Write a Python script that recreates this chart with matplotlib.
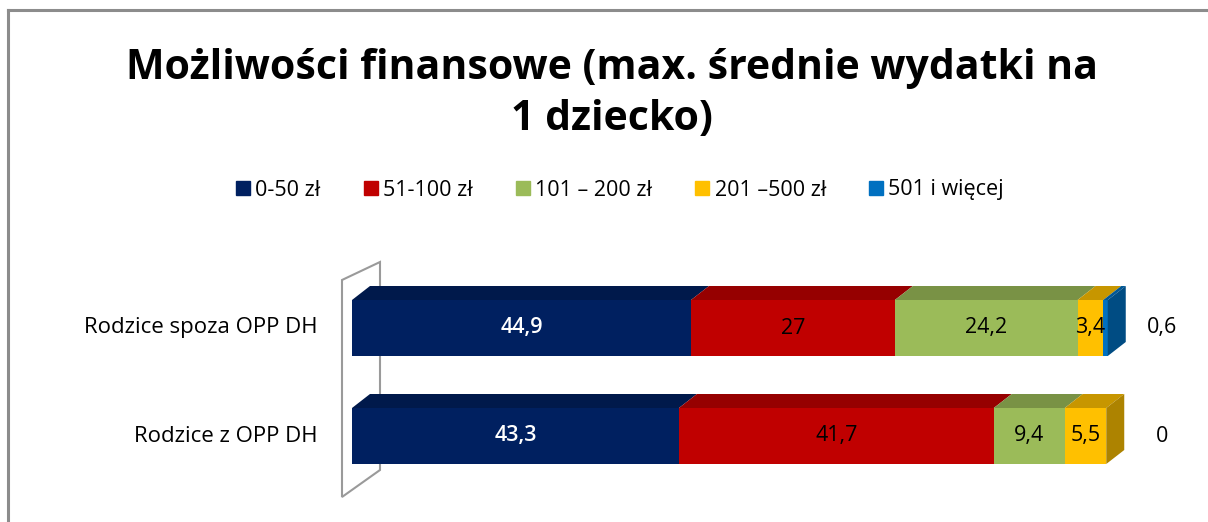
import matplotlib.pyplot as plt
from matplotlib.patches import Polygon
import matplotlib.colors as mcolors

plt.rcParams['font.family'] = ['Open Sans', 'DejaVu Sans']

categories = ["Rodzice spoza OPP DH", "Rodzice z OPP DH"]
series = ["0-50 zł", "51-100 zł", "101 – 200 zł", "201 –500 zł", "501 i więcej"]
values = [
    [44.9, 27, 24.2, 3.4, 0.6],
    [43.3, 41.7, 9.4, 5.5, 0],
]
labels = [
    ["44,9", "27", "24,2", "3,4", "0,6"],
    ["43,3", "41,7", "9,4", "5,5", "0"],
]
colors = ["#002060", "#C00000", "#9BBB59", "#FFC000", "#0070C0"]
label_colors = ["white", "black", "black", "black", "black"]


def darker(c, f=0.78):
    r, g, b = mcolors.to_rgb(c)
    return (r * f, g * f, b * f)


fig = plt.figure(figsize=(12.08, 5.22), dpi=100)

# chart frame (left + top edges visible)
fig.add_artist(plt.Line2D([8 / 1208, 8 / 1208], [0, 1 - 10 / 522], color="#8c8c8c", lw=2.2))
fig.add_artist(plt.Line2D([8 / 1208, 1], [1 - 10 / 522, 1 - 10 / 522], color="#8c8c8c", lw=2.2))

fig.text(612 / 1208, 1 - 94 / 522, "Możliwości finansowe (max. średnie wydatki na\n1 dziecko)",
         ha="center", va="center", fontsize=29.5, fontweight="bold", linespacing=1.32)

# axes: x in percent, y in category units (108 px per unit)
px_per_x = 7.55
left_px, right_px = 352, 352 + 100 * px_per_x
top_px, bot_px = 240, 510
ax = fig.add_axes([left_px / 1208, 1 - bot_px / 522, (right_px - left_px) / 1208, (bot_px - top_px) / 522])
ax.set_xlim(0, 100)
ax.set_ylim((bot_px - 328) / 108, (top_px - 328) / 108)
ax.axis("off")

dx = 18 / px_per_x
dy = -14 / 108
h = 56 / 108

# back wall
wall = Polygon([(-10 / px_per_x, (280 - 328) / 108), (28 / px_per_x, (262 - 328) / 108),
                (28 / px_per_x, (470 - 328) / 108), (-10 / px_per_x, (497 - 328) / 108)],
               closed=True, fill=False, edgecolor="#9a9a9a", lw=1.5, clip_on=False)
ax.add_patch(wall)

for i, row in enumerate(values):
    y0, y1 = i - h / 2, i + h / 2
    start = 0
    last_color = colors[0]
    for j, v in enumerate(row):
        end = start + v
        if v > 0:
            ax.add_patch(Polygon([(start, y0), (start + dx, y0 + dy), (end + dx, y0 + dy), (end, y0)],
                                 closed=True, facecolor=darker(colors[j]), edgecolor="none", clip_on=False))
            ax.add_patch(Polygon([(start, y0), (end, y0), (end, y1), (start, y1)],
                                 closed=True, facecolor=colors[j], edgecolor="none", clip_on=False))
            last_color = colors[j]
        start = end
    # right side face
    ax.add_patch(Polygon([(start, y0), (start + dx, y0 + dy), (start + dx, y1 + dy), (start, y1)],
                         closed=True, facecolor=darker(last_color, 0.68), edgecolor="none", clip_on=False))
    # labels
    start = 0
    for j, v in enumerate(row):
        if j == len(row) - 1:
            ax.text(107.3, i, labels[i][j], ha="center", va="center", fontsize=15.5, color="black", clip_on=False)
        else:
            ax.text(start + v / 2, i, labels[i][j], ha="center", va="center", fontsize=15.5,
                    color=label_colors[j], fontweight="semibold" if j == 0 else "normal")
        start += v
    ax.text(-4.5, i, categories[i], ha="right", va="center", fontsize=16, clip_on=False)

# legend
handles = [plt.Rectangle((0, 0), 1, 1, color=c) for c in colors]
fig.legend(handles, series, loc="center", bbox_to_anchor=(620 / 1208, 1 - 190 / 522), ncol=5,
           frameon=False, fontsize=15.5, handlelength=0.65, handleheight=0.65, handletextpad=0.25,
           columnspacing=2.0)

fig.savefig("out.png", dpi=100)
